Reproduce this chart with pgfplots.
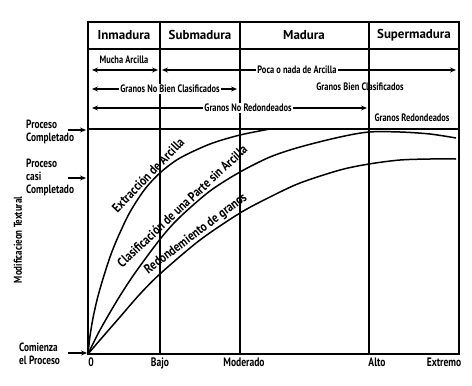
\documentclass[border=0pt]{standalone}
\usepackage{pgfplots}
\pgfplotsset{compat=1.18}
\usepackage{fontspec}
\setmainfont{PT Sans}
\newfontfamily\cond{PT Sans}[FakeStretch=0.78]
\newfontfamily\condw{PT Sans}[FakeStretch=0.84]
\usetikzlibrary{arrows.meta}
\begin{document}
\begin{tikzpicture}[
  small/.style={font=\cond\bfseries\fontsize{10.8}{11}\selectfont, inner sep=1pt},
  side/.style={font=\cond\bfseries\fontsize{12}{13}\selectfont, align=left, anchor=west, inner sep=0pt},
  head/.style={font=\bfseries\fontsize{13}{14}\selectfont},
  curvelab/.style={font=\condw\bfseries\fontsize{13.3}{14}\selectfont, inner sep=0pt},
  arr/.style={line width=1.4bp, -{Stealth[length=6bp,width=5bp]}},
  darr/.style={line width=1.4bp, {Stealth[length=6bp,width=5bp]}-{Stealth[length=6bp,width=5bp]}},
]
\begin{axis}[
  x=1bp, y=1bp,
  xmin=0, xmax=371, ymin=0, ymax=332,
  axis line style={line width=1.3bp},
  ytick=\empty,
  xtick={3,72,156,289,356},
  xticklabels={0,Bajo,Moderado,Alto,Extremo},
  major tick length=0,
  /pgf/number format/assume math mode=true,
  xticklabel style={font=\cond\bfseries\fontsize{12.3}{13}\selectfont, yshift=-0.5bp},
  clip=false,
]
% bounding box of the whole picture
\path (axis cs:-88,-31) rectangle (axis cs:384,354);
% grid of the table
\draw[line width=1.3bp] (axis cs:72,0) -- (axis cs:72,332);
\draw[line width=1.3bp] (axis cs:152,0) -- (axis cs:152,332);
\draw[line width=1.3bp] (axis cs:281,0) -- (axis cs:281,332);
\draw[line width=1.3bp] (axis cs:0,305) -- (axis cs:371,305);
\draw[line width=1.3bp] (axis cs:0,225) -- (axis cs:371,225);
\draw[line width=2.2bp] (axis cs:0,0) -- (axis cs:371,0);
% headers
\node[head] at (axis cs:36,319) {Inmadura};
\node[head] at (axis cs:112,319) {Submadura};
\node[head] at (axis cs:216,319) {Madura};
\node[head] at (axis cs:326,319) {Supermadura};
% row 1
\node[small] at (axis cs:36,294) {Mucha Arcilla};
\draw[darr] (axis cs:4,284) -- (axis cs:70,284);
\draw[darr] (axis cs:74,284) -- (axis cs:368,284);
\node[small, fill=white] at (axis cs:209,284) {Poca o nada de Arcilla};
% row 2
\draw[darr] (axis cs:4,265) -- (axis cs:149,265);
\node[small, fill=white] at (axis cs:82,265) {Granos No Bien Clasificados};
\node[small] at (axis cs:272,267) {Granos Bien Clasificados};
% row 3
\draw[darr] (axis cs:4,246) -- (axis cs:279,246);
\node[small, fill=white] at (axis cs:160,246) {Granos No Redondeados};
\node[small] at (axis cs:324,236) {Granos Redondeados};
% curves
\addplot[line width=1.5bp, smooth, tension=0.5] coordinates {
  (0,0) (2,18) (5,36) (9,54) (14,72) (22,97) (30,117) (42,142) (57,165)
  (73,182) (92,196) (122,210) (152,219) (182,225)};
\addplot[line width=1.5bp, smooth, tension=0.5] coordinates {
  (0,0) (12,24) (30,55) (47,81) (73,116) (92,137) (122,163) (152,182)
  (182,197) (212,207) (252,217) (281,222) (312,222) (342,220) (368,216)};
\addplot[line width=1.5bp, smooth, tension=0.5] coordinates {
  (0,0) (12,14) (32,37) (52,60) (73,81) (112,114) (152,141) (182,157)
  (212,171) (252,184) (281,190) (312,194) (342,195) (368,195)};
% curve labels
\node[curvelab, rotate=46] at (axis cs:60,179) {Extracción de Arcilla};
\node[curvelab, rotate=43] at (axis cs:94,148) {Clasificación de una Parte sin Arcilla};
\node[curvelab, rotate=37] at (axis cs:108,120) {Redondemiento de granos};
% left labels
\node[side] at (axis cs:-62,222) {Proceso\\Completado};
\draw[arr] (axis cs:-20,224) -- (axis cs:-2,224);
\node[side] at (axis cs:-62,177) {Proceso\\casi\\Completado};
\draw[arr] (axis cs:-20,176) -- (axis cs:-2,176);
\node[side] at (axis cs:-69,0) {Comienza\\el Proceso};
\draw[arr] (axis cs:-20,1) -- (axis cs:-1,1);
\node[font=\cond\bfseries\fontsize{11.5}{12}\selectfont, rotate=90] at (axis cs:-70,114) {Modificacieon Textural};
\end{axis}
\end{tikzpicture}
\end{document}
